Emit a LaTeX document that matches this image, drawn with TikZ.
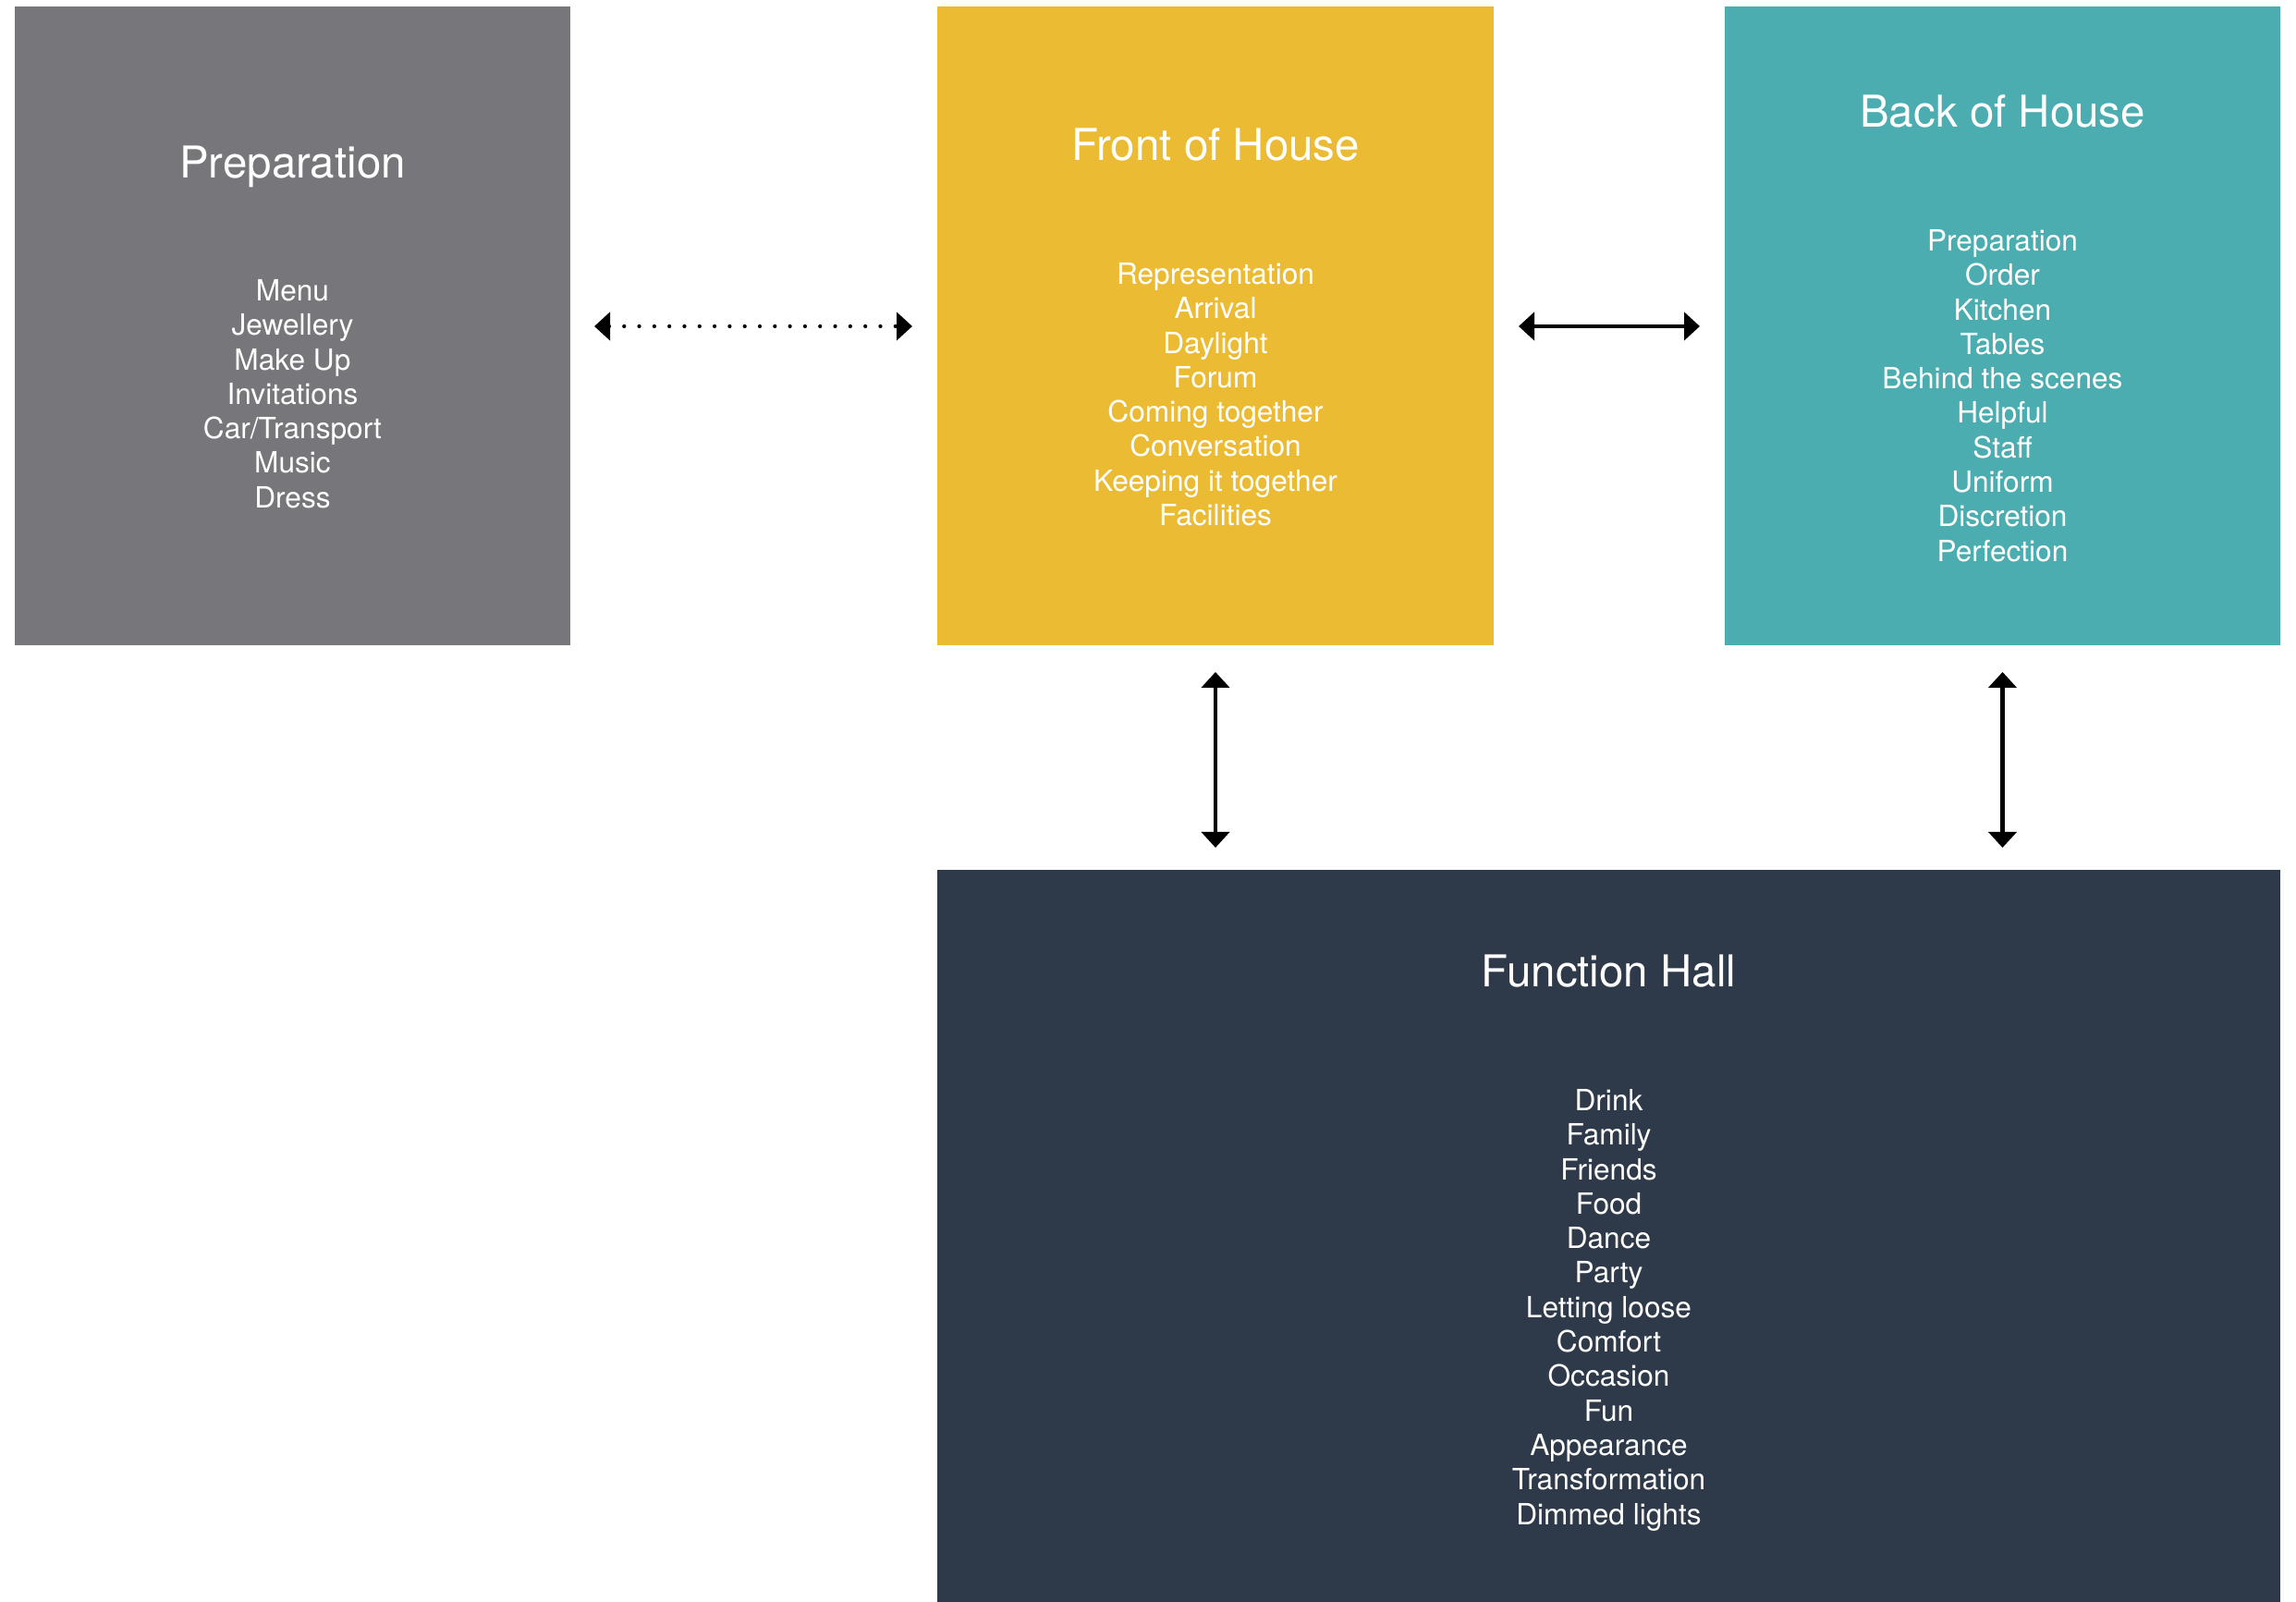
\documentclass[tikz,border=0pt]{standalone}
\usepackage{fontspec}
\setmainfont{TeX Gyre Heros}
\usetikzlibrary{arrows.meta}
\definecolor{prepgray}{HTML}{77777B}
\definecolor{fohyellow}{HTML}{ECBB34}
\definecolor{bohteal}{HTML}{4BADB0}
\definecolor{hallnavy}{HTML}{2E3A49}
\tikzset{
  area/.style={rectangle, inner sep=0pt, outer sep=0pt, minimum width=6.01cm, minimum height=6.91cm},
  heading/.style={text=white, anchor=base, font=\fontsize{13.5}{16}\selectfont},
  entry/.style={text=white, anchor=base, font=\fontsize{9}{11}\selectfont},
  link/.style={line width=1.4pt, {Triangle[length=1.7mm,width=3mm]}-{Triangle[length=1.7mm,width=3mm]}},
}
\begin{document}
\begin{tikzpicture}
\useasboundingbox (0,0) rectangle (24.84,17.33);
% the four areas
\node[area, fill=prepgray] (prep) at (3.165,13.80) {};
\node[area, fill=fohyellow, minimum width=6.02cm] (foh) at (13.15,13.80) {};
\node[area, fill=bohteal] (boh) at (21.665,13.80) {};
\node[area, fill=hallnavy, minimum width=14.53cm, minimum height=7.92cm] (hall) at (17.405,3.96) {};
% headings
\node[heading] (prep-t) at (3.165,15.40) {Preparation};
\node[heading] (foh-t) at (13.15,15.59) {Front of House};
\node[heading] (boh-t) at (21.665,15.95) {Back of House};
\node[heading] (hall-t) at (17.405,6.65) {Function Hall};
% lists
\foreach \w [count=\i] in {Menu, Jewellery, Make Up, Invitations, Car/Transport, Music, Dress}
  \node[entry] (prep-\i) at (3.165,{14.448-0.373*\i}) {\w};
\foreach \w [count=\i] in {Representation, Arrival, Daylight, Forum, Coming together, Conversation, Keeping it together, Facilities}
  \node[entry] (foh-\i) at (13.15,{14.628-0.373*\i}) {\w};
\foreach \w [count=\i] in {Preparation, Order, Kitchen, Tables, Behind the scenes, Helpful, Staff, Uniform, Discretion, Perfection}
  \node[entry] (boh-\i) at (21.665,{14.988-0.373*\i}) {\w};
\foreach \w [count=\i] in {Drink, Family, Friends, Food, Dance, Party, Letting loose, Comfort, Occasion, Fun, Appearance, Transformation, Dimmed lights}
  \node[entry] (hall-\i) at (17.405,{5.688-0.373*\i}) {\w};
% links
\draw[link, line width=1.2pt, dash pattern=on 0pt off 4.64pt, line cap=round, shorten <=0.26cm, shorten >=0.27cm] (prep.east) -- (foh.west);
\draw[link, shorten <=0.27cm, shorten >=0.27cm] (foh.east) -- (boh.west);
\draw[link, shorten <=0.285cm, shorten >=0.24cm] (foh.south) -- (foh.south |- hall.north);
\draw[link, shorten <=0.285cm, shorten >=0.24cm] (boh.south) -- (boh.south |- hall.north);
\end{tikzpicture}
\end{document}
